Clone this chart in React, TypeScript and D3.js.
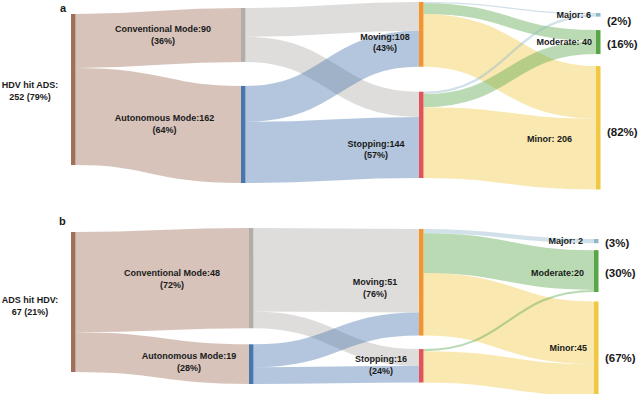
import React from 'react';
import * as d3 from 'd3';

const W = 640;
const H = 394;
const NODE_W = 4.5;

// node order: root, conventional, autonomous, moving, stopping, major, moderate, minor
const nodeIds = ['root', 'conv', 'auto', 'moving', 'stopping', 'major', 'moderate', 'minor'];
const nodeColumns = [0, 1, 1, 2, 2, 3, 3, 3];
const nodeColors = ['#a0705b', '#b3adaa', '#4a76ae', '#f2952e', '#e0545a', '#8fb8cb', '#58a648', '#f0c843'];

const aNames = ['HDV hit ADS:', 'Conventional Mode:', 'Autonomous Mode:', 'Moving:', 'Stopping:', 'Major: ', 'Moderate: ', 'Minor: '];
const bNames = ['ADS hit HDV:', 'Conventional Mode:', 'Autonomous Mode:', 'Moving:', 'Stopping:', 'Major: ', 'Moderate:', 'Minor:'];

// [source, target, value]
const aLinks: [string, string, number][] = [
  ['root', 'conv', 90], ['root', 'auto', 162],
  ['conv', 'moving', 48], ['conv', 'stopping', 42],
  ['auto', 'moving', 60], ['auto', 'stopping', 102],
  ['moving', 'major', 2], ['moving', 'moderate', 18], ['moving', 'minor', 88],
  ['stopping', 'major', 4], ['stopping', 'moderate', 22], ['stopping', 'minor', 118],
];
const bLinks: [string, string, number][] = [
  ['root', 'conv', 48], ['root', 'auto', 19],
  ['conv', 'moving', 40], ['conv', 'stopping', 8],
  ['auto', 'moving', 11], ['auto', 'stopping', 8],
  ['moving', 'major', 2], ['moving', 'moderate', 19], ['moving', 'minor', 30],
  ['stopping', 'moderate', 1], ['stopping', 'minor', 15],
];

// layout of each panel: column x, column tops, gaps between nodes, value->px
const aLayout = {
  letter: 'a', letterX: 60, letterY: 12,
  colX: [71, 241, 419, 596], top: [14, 8, 2, 13], gap: [[], [24], [25], [13.5, 12]],
  height: 151,
  // label offsets [dx, dy] from (x0, centre y); pct dy for the last column
  label: [[-41, 0.5], [-78, -0.5], [-76.5, -11], [-34, 7.5], [-43, 14], [-5, 3], [-4, 3], [-24, 14]],
  pct: [0, 0, 0, 0, 0, 10, 6, 8],
};
const bLayout = {
  letter: 'b', letterX: 59, letterY: 225,
  colX: [71, 249, 419, 594], top: [232, 228, 229, 239], gap: [[], [16], [13.5], [7, 9.5]],
  height: 140,
  label: [[-41, 3], [-77, 0], [-60, -3], [-44, 5], [-38, -1.5], [-11, 3], [-10, 5], [-7, 3]],
  pct: [0, 0, 0, 0, 0, 6, 6, 14],
};

const pctFmt = d3.format('.0%');

function buildPanel(cfg: any, names: string[], links: [string, string, number][]) {
  const nodes: any[] = nodeIds.map((id, i) => ({ id, i, col: nodeColumns[i], name: names[i], vin: 0, vout: 0 }));
  const byId = new Map(nodes.map(n => [n.id, n]));
  const ls: any[] = links.map(([s, t, v]) => ({ source: byId.get(s), target: byId.get(t), value: v }));
  ls.forEach(l => { l.source.vout += l.value; l.target.vin += l.value; });
  nodes.forEach(n => { n.value = Math.max(n.vin, n.vout); });
  const total = nodes[0].value;
  const k = d3.scaleLinear().domain([0, total]).range([0, cfg.height]);

  d3.group(nodes, n => n.col).forEach((col, c) => {
    let y = cfg.top[c];
    col.forEach((n, j) => {
      if (j > 0) y += cfg.gap[c][j - 1];
      n.x0 = cfg.colX[c];
      n.x1 = n.x0 + NODE_W;
      n.y0 = y;
      n.y1 = y + k(n.value);
      y = n.y1;
    });
  });

  ls.forEach(l => { l.w = k(l.value); });
  nodes.forEach(n => {
    let sy = n.y0;
    ls.filter(l => l.source === n).sort((a, b) => a.target.y0 - b.target.y0)
      .forEach(l => { l.y0 = sy + l.w / 2; sy += l.w; });
    let ty = n.y0;
    ls.filter(l => l.target === n).sort((a, b) => a.source.y0 - b.source.y0)
      .forEach(l => { l.y1 = ty + l.w / 2; ty += l.w; });
  });
  return { nodes, links: ls, total };
}

const linkPath = d3.linkHorizontal<any, [number, number]>()
  .x(d => d[0])
  .y(d => d[1]);

const font = '"Liberation Sans", Arial, sans-serif';

function Panel({ cfg, names, links, grand }: any) {
  const { nodes, links: ls, total } = buildPanel(cfg, names, links);
  return (
    <g>
      <text x={cfg.letterX} y={cfg.letterY} fontSize={11} fontWeight="bold">{cfg.letter}</text>
      {ls.map((l: any, i: number) => {
        // last column links take the target colour, the rest the source colour
        const c = l.target.col === 3 ? nodeColors[l.target.i] : nodeColors[l.source.i];
        return (
          <path key={i}
            d={linkPath({ source: [l.source.x1, l.y0], target: [l.target.x0, l.y1] } as any) || ''}
            fill="none" stroke={c} strokeOpacity={0.42} strokeWidth={Math.max(l.w, 1)} />
        );
      })}
      {nodes.map((n: any) => (
        <rect key={n.id} x={n.x0} y={n.y0} width={NODE_W} height={Math.max(n.y1 - n.y0, 1)}
          fill={nodeColors[n.i]} />
      ))}
      {nodes.map((n: any) => {
        const [dx, dy] = cfg.label[n.i];
        const cy = (n.y0 + n.y1) / 2;
        if (n.col === 3) {
          return (
            <g key={'l' + n.id}>
              <text x={n.x0 + dx} y={cy + dy} textAnchor="end" fontSize={9} fontWeight="bold">
                {n.name + n.value}
              </text>
              <text x={n.x0 + 11} y={cy + cfg.pct[n.i]} fontSize={11.5} fontWeight="bold">
                {`(${pctFmt(n.value / total)})`}
              </text>
            </g>
          );
        }
        const line1 = n.col === 0 ? n.name : n.name + n.value;
        const line2 = n.col === 0 ? `${n.value} (${pctFmt(n.value / grand)})` : `(${pctFmt(n.value / total)})`;
        return (
          <text key={'l' + n.id} x={n.x0 + dx} textAnchor="middle" fontSize={9} fontWeight="bold">
            <tspan x={n.x0 + dx} y={cy + dy - 2}>{line1}</tspan>
            <tspan x={n.x0 + dx} y={cy + dy + 9.5}>{line2}</tspan>
          </text>
        );
      })}
    </g>
  );
}

export default function App() {
  const grand = d3.sum(aLinks.filter(l => l[0] === 'root'), l => l[2]) +
    d3.sum(bLinks.filter(l => l[0] === 'root'), l => l[2]);
  return (
    <svg width={W} height={H} style={{ position: 'absolute', left: 0, top: 0, background: '#fff' }}
      fontFamily={font} fill="#1a1a1a">
      <Panel cfg={aLayout} names={aNames} links={aLinks} grand={grand} />
      <Panel cfg={bLayout} names={bNames} links={bLinks} grand={grand} />
    </svg>
  );
}
